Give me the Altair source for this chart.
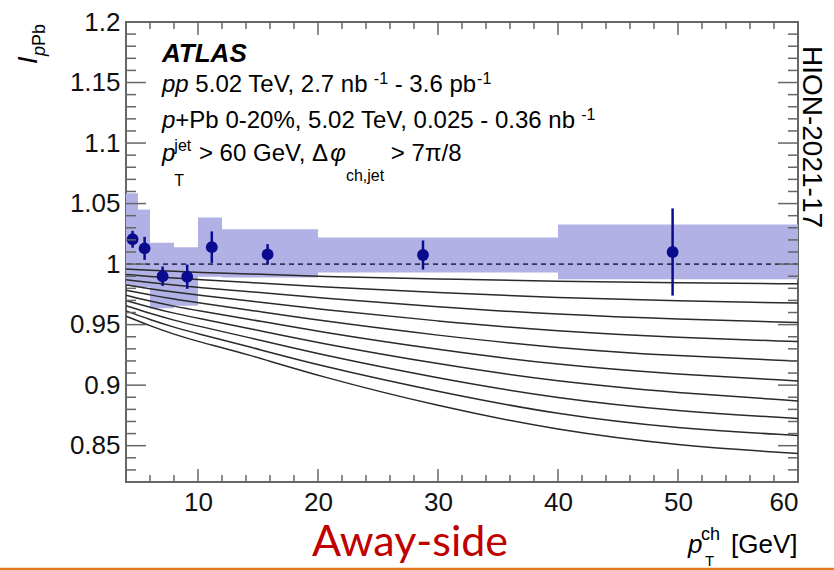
import altair as alt
import pandas as pd

# ---------------- data ----------------
pt_x = [4.55, 5.55, 7.05, 9.1, 11.15, 15.8, 28.75, 49.55]
ipb = [1.0205, 1.013, 0.990, 0.9896, 1.014, 1.008, 1.0075, 1.010]
stat_err = [0.007, 0.0095, 0.008, 0.010, 0.013, 0.0085, 0.012, 0.036]

bin_lo = [4, 5, 6, 8, 10, 12, 20, 40]
bin_hi = [5, 6, 8, 10, 12, 20, 40, 60]
sys_lo = [0.982, 0.981, 0.9635, 0.9655, 0.9895, 0.989, 0.993, 0.9875]
sys_hi = [1.0585, 1.045, 1.0177, 1.0139, 1.0385, 1.0288, 1.022, 1.0328]

model_x = [4, 6, 8, 10, 14, 20, 30, 40, 50, 60]
model_lines = [
    [0.9960, 0.9950, 0.9940, 0.9932, 0.9920, 0.9898, 0.9878, 0.9856, 0.9845, 0.9837],
    [0.9914, 0.9898, 0.9884, 0.9872, 0.9850, 0.9814, 0.9764, 0.9722, 0.9696, 0.9678],
    [0.9871, 0.9847, 0.9826, 0.9808, 0.9775, 0.9721, 0.9646, 0.9583, 0.9544, 0.9518],
    [0.9828, 0.9796, 0.9768, 0.9744, 0.9700, 0.9628, 0.9528, 0.9444, 0.9392, 0.9360],
    [0.9785, 0.9745, 0.9710, 0.9680, 0.9625, 0.9535, 0.9410, 0.9305, 0.9240, 0.9200],
    [0.9742, 0.9694, 0.9652, 0.9616, 0.9550, 0.9442, 0.9292, 0.9166, 0.9088, 0.9035],
    [0.9699, 0.9643, 0.9594, 0.9552, 0.9475, 0.9349, 0.9174, 0.9027, 0.8936, 0.8870],
    [0.9656, 0.9592, 0.9536, 0.9488, 0.9400, 0.9256, 0.9056, 0.8888, 0.8784, 0.8725],
    [0.9613, 0.9541, 0.9478, 0.9424, 0.9325, 0.9163, 0.8945, 0.8755, 0.8640, 0.8585],
    [0.9570, 0.9490, 0.9420, 0.9360, 0.9260, 0.9075, 0.8825, 0.8625, 0.8500, 0.8435],
]

x_labels = [10, 20, 30, 40, 50, 60]
y_labels = [0.85, 0.9, 0.95, 1.0, 1.05, 1.1, 1.15, 1.2]
x_major_ticks = [10, 20, 30, 40, 50]
x_minor_ticks = [6, 8, 12, 14, 16, 18, 22, 24, 26, 28, 32, 34, 36, 38,
                 42, 44, 46, 48, 52, 54, 56, 58]
y_major_ticks = [0.85, 0.9, 0.95, 1.0, 1.05, 1.1, 1.15]
y_minor_ticks = [0.83, 0.84, 0.86, 0.87, 0.88, 0.89, 0.91, 0.92, 0.93, 0.94,
                 0.96, 0.97, 0.98, 0.99, 1.01, 1.02, 1.03, 1.04, 1.06, 1.07,
                 1.08, 1.09, 1.11, 1.12, 1.13, 1.14, 1.16, 1.17, 1.18, 1.19]

# ---------------- layout ----------------
W, H = 672, 460
PL, PT = 126, 22
FONT = "Liberation Sans"
FRAME = "#666666"
NAVY = "#0b0b8f"

xs = alt.Scale(domain=[4, 60], nice=False, zero=False)
ys = alt.Scale(domain=[0.82, 1.2], nice=False, zero=False)
xaxis = alt.Axis(values=x_labels, labelExpr="'' + datum.value", domain=False,
                 ticks=False, grid=False, labelFont=FONT, labelFontSize=26,
                 labelColor="#111111", labelPadding=7, title=None)
yaxis = alt.Axis(values=y_labels, labelExpr="'' + datum.value", domain=False,
                 ticks=False, grid=False, labelFont=FONT, labelFontSize=26,
                 labelColor="#111111", labelPadding=6, title=None)


def X(f):
    return alt.X(f, type="quantitative", scale=xs, axis=xaxis)


def Y(f):
    return alt.Y(f, type="quantitative", scale=ys, axis=yaxis)


df_sys = pd.DataFrame({"x": bin_lo, "x2": bin_hi, "y": sys_lo, "y2": sys_hi})
df_pts = pd.DataFrame({"x": pt_x, "y": ipb,
                       "lo": [v - e for v, e in zip(ipb, stat_err)],
                       "hi": [v + e for v, e in zip(ipb, stat_err)]})
rows = []
for i, line in enumerate(model_lines):
    for xv, yv in zip(model_x, line):
        rows.append({"line": i, "x": xv, "y": yv})
df_lines = pd.DataFrame(rows)

sys_layer = alt.Chart(df_sys).mark_rect(color="#b1b1e6", opacity=1).encode(
    x=X("x"), x2="x2", y=Y("y"), y2="y2")

lines_layer = alt.Chart(df_lines).mark_line(
    color="#2a2a2a", strokeWidth=1.5, interpolate="basis", clip=True).encode(
    x=X("x"), y=Y("y"), detail="line:N")

unity = alt.Chart(pd.DataFrame({"y": [1.0]})).mark_rule(
    color="#34345e", strokeWidth=1.6, strokeDash=[5, 4]).encode(y=Y("y"))

err_layer = alt.Chart(df_pts).mark_rule(color=NAVY, strokeWidth=2.5).encode(
    x=X("x"), y=Y("lo"), y2="hi")

pts_layer = alt.Chart(df_pts).mark_circle(color=NAVY, size=140, opacity=1).encode(
    x=X("x"), y=Y("y"))


def xticks(vals, length):
    d = pd.DataFrame({"x": vals})
    b = alt.Chart(d).mark_rule(color=FRAME, strokeWidth=1.5).encode(
        x=X("x"), y=alt.value(H), y2=alt.value(H - length))
    t = alt.Chart(d).mark_rule(color=FRAME, strokeWidth=1.5).encode(
        x=X("x"), y=alt.value(0), y2=alt.value(length))
    return [b, t]


def yticks(vals, length):
    d = pd.DataFrame({"y": vals})
    l = alt.Chart(d).mark_rule(color=FRAME, strokeWidth=1.5).encode(
        y=Y("y"), x=alt.value(0), x2=alt.value(length))
    r = alt.Chart(d).mark_rule(color=FRAME, strokeWidth=1.5).encode(
        y=Y("y"), x=alt.value(W), x2=alt.value(W - length))
    return [l, r]


tick_layers = (xticks(x_major_ticks, 13) + xticks(x_minor_ticks, 7)
               + yticks(y_major_ticks, 20) + yticks(y_minor_ticks, 10))

# ---------------- text ----------------
WID = {' ': 278, '-': 333, '+': 584, '%': 889, ',': 278, '.': 278, '/': 278,
       '>': 584, '[': 278, ']': 278, 'A': 667, 'G': 778, 'L': 556, 'P': 667,
       'S': 667, 'T': 611, 'V': 667, 'b': 556, 'c': 500, 'e': 556, 'h': 556,
       'j': 222, 'n': 556, 'p': 556, 't': 278, 'I': 278, 'Δ': 668, 'φ': 650,
       'π': 580}


def tw(s, size):
    return sum(WID.get(c, 556) for c in s) / 1000.0 * size


one = pd.DataFrame({"a": [0]})


def txt(s, px, py, size, style="normal", weight="normal", angle=0,
        align="left", baseline="alphabetic", color="#000000", font=FONT):
    if align == "left":
        lead = len(s) - len(s.lstrip(" "))
        px += tw(" " * lead, size)
        s = s.lstrip(" ")
    return alt.Chart(one).mark_text(
        text=s, font=font, fontSize=size, fontStyle=style,
        fontWeight=weight, angle=angle, align=align, baseline=baseline,
        color=color).encode(x=alt.value(px - PL), y=alt.value(py - PT))


texts = []
S = 24
SS = 16
x0 = 162
# ATLAS
texts.append(txt("ATLAS", x0, 62, 26, style="italic", weight="bold"))
# line 2
y2 = 92
cx = x0
texts.append(txt("pp", cx, y2, S, style="italic")); cx += tw("pp", S)
seg = " 5.02 TeV, 2.7 nb"
texts.append(txt(seg, cx, y2, S)); cx += tw(seg, S)
texts.append(txt("-1", cx + 1, y2 - 8, SS)); cx += tw("-1", SS) + 1
seg = " - 3.6 pb"
texts.append(txt(seg, cx, y2, S)); cx += tw(seg, S)
texts.append(txt("-1", cx + 1, y2 - 8, SS))
# line 3
y3 = 128
cx = x0
texts.append(txt("p", cx, y3, S, style="italic")); cx += tw("p", S)
seg = "+Pb 0-20%, 5.02 TeV, 0.025 - 0.36 nb"
texts.append(txt(seg, cx, y3, S)); cx += tw(seg, S)
texts.append(txt("-1", cx + 1, y3 - 8, SS))
# line 4
y4 = 161
cx = x0
texts.append(txt("p", cx, y4, S, style="italic")); cx += tw("p", S) - 1
texts.append(txt("jet", cx, y4 - 10, SS))
texts.append(txt("T", cx, y4 + 25, SS))
cx += tw("jet", SS) + 1
seg = " > 60 GeV, Δ"
texts.append(txt(seg, cx, y4, S)); cx += tw(seg, S)
texts.append(txt("φ", cx, y4, S, style="italic")); cx += tw("φ", S)
texts.append(txt("ch,jet", cx, y4 + 20, SS)); cx += tw("ch,jet", SS)
seg = " > 7π/8"
texts.append(txt(seg, cx, y4, S))

# y title
texts.append(txt("I", 37, 64, 27, style="italic", angle=270))
texts.append(txt("p", 45, 56, 18, style="italic", angle=270))
texts.append(txt("Pb", 45, 56 - tw("p", 18), 18, angle=270))

# x title
texts.append(txt("p", 688, 553, 26, style="italic"))
texts.append(txt("ch", 701, 540, 18))
texts.append(txt("T", 705, 566, 15))
texts.append(txt("[GeV]", 731, 553, 26))

# side label and slide caption
texts.append(txt("HION-2021-17", 797, 137, 28, angle=90, align="center",
                 baseline="bottom"))
texts.append(txt("Away-side", 410, 556, 43, align="center", color="#c00000",
                 font="Lato"))

orange = alt.Chart(one).mark_rule(color="#e2791a", strokeWidth=2.5).encode(
    x=alt.value(-PL), x2=alt.value(834 - PL), y=alt.value(569 - PT))

chart = alt.layer(
    sys_layer, lines_layer, unity, err_layer, pts_layer,
    *tick_layers, *texts, orange
).properties(
    width=W, height=H,
    autosize=alt.AutoSizeParams(type="none"),
    padding={"left": PL, "top": PT, "right": 834 - PL - W, "bottom": 570 - PT - H},
    background="white",
).configure_view(stroke=FRAME, strokeWidth=2)

chart.save("out.html", embed_options={"renderer": "svg", "actions": False})
